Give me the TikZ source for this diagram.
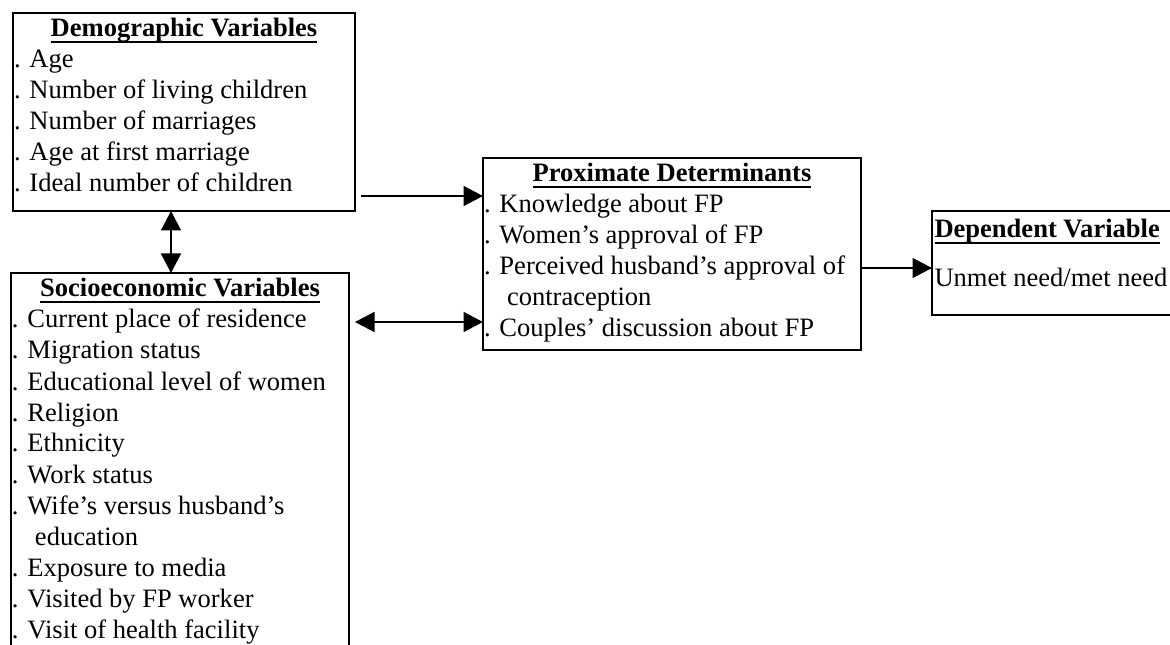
\documentclass[tikz,border=0pt]{standalone}
\usepackage{fontspec}
\setmainfont{Liberation Serif}
\usetikzlibrary{arrows.meta}
%% bold heading with a close underline
\newcommand{\boxtitle}[1]{\setbox0\hbox{\textbf{#1}}\rlap{\rule[-1.2mm]{\wd0}{0.4mm}}\box0}
\tikzset{
  varbox/.style={draw,line width=0.45mm,inner xsep=0.2mm,inner ysep=0pt,outer sep=0pt,
    anchor=north west,font=\fontsize{15.1pt}{6.2mm}\selectfont},
  arr/.style={line width=0.3mm,-{Triangle[length=3.9mm,width=4mm]}},
  dblarr/.style={line width=0.3mm,{Triangle[length=3.9mm,width=4mm]}-{Triangle[length=3.9mm,width=4mm]}}
}
\begin{document}
\begin{tikzpicture}[x=0.2mm,y=-0.2mm]
        \path[use as bounding box,clip] (0,0) rectangle (1170,645);
        %% demographic variables
        \node[varbox] (dem) at (13,13) {\parbox{68mm}{\centering\rule{0pt}{4.8mm}\boxtitle{Demographic Variables}\par
            \raggedright . Age\\
            . Number of living children\\
            . Number of marriages\\
            . Age at first marriage\\
            . Ideal number of children\rule[-3.8mm]{0pt}{0pt}}};
        %% socioeconomic variables
        \node[varbox] (soc) at (11,273) {\parbox{67.2mm}{\centering\rule{0pt}{4.8mm}\boxtitle{Socioeconomic Variables}\par
            \raggedright . Current place of residence\\
            . Migration status\\
            . Educational level of women\\
            . Religion\\
            . Ethnicity\\
            . Work status\\
            . Wife's versus husband's\\
            \hspace*{4.6mm}education\\
            . Exposure to media\\
            . Visited by FP worker\\
            . Visit of health facility\rule[-3.8mm]{0pt}{0pt}}};
        %% proximate determinants
        \node[varbox] (prox) at (483,158) {\parbox{75.2mm}{\centering\rule{0pt}{4.8mm}\boxtitle{Proximate Determinants}\par
            \raggedright . Knowledge about FP\\
            . Women's approval of FP\\
            . Perceived husband's approval of\\
            \hspace*{4.6mm}contraception\\
            . Couples' discussion about FP\rule[-2.6mm]{0pt}{0pt}}};
        %% dependent variable
        \node[varbox,inner xsep=0.5mm] (dep) at (932,211) {\parbox{50mm}{\raggedright
            \rule{0pt}{5.4mm}\boxtitle{Dependent Variable}\\[3.6mm]
            Unmet need/met need\rule[-5.6mm]{0pt}{0pt}}};
        %% arrows
        \coordinate (p1) at (361,196);
        \coordinate (p2) at (0,268);
        \coordinate (p3) at (171,0);
        \coordinate (p4) at (355,322);
        \draw[arr] (p1) -- (p1 -| prox.west);
        \draw[arr] (prox.east |- p2) -- (dep.west |- p2);
        \draw[dblarr] (dem.south -| p3) -- (soc.north -| p3);
        \draw[dblarr] (p4) -- (p4 -| prox.west);
\end{tikzpicture}
\end{document}
